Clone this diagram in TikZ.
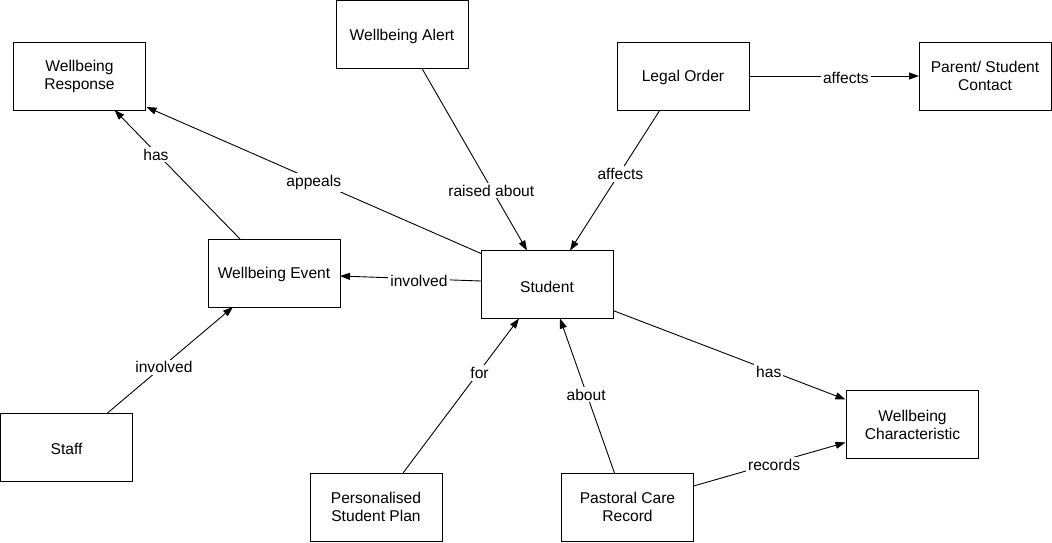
\documentclass[tikz,border=0pt]{standalone}
\usepackage{fontspec}
\setmainfont{Liberation Sans}
\usetikzlibrary{arrows.meta,calc}
\begin{document}
\begin{tikzpicture}[x=1pt,y=-1pt,
  entity/.style={draw=black, line width=1pt, minimum width=132pt, minimum height=68pt,
    inner sep=2pt, outer sep=0pt, align=center, font=\fontsize{15.6}{18}\selectfont,
    execute at begin node={\rule{0pt}{15.2pt}}},
  rel/.style={line width=0.9pt, -{Triangle[length=10pt,width=7pt]}},
  lbl/.style={fill=white, inner sep=2pt, yshift=-2pt, font=\fontsize{15.6}{18}\selectfont}]
\useasboundingbox (0,0) rectangle (1052,542);

\node[entity] (wr) at (79.5,76) {Wellbeing\\Response};
\node[entity] (wa) at (402,34.5) {Wellbeing Alert};
\node[entity] (lo) at (683,76) {Legal Order};
\node[entity] (psc) at (985,76) {Parent/ Student\\Contact};
\node[entity] (we) at (274,273) {Wellbeing Event};
\node[entity] (st) at (547,284.5) {Student};
\node[entity] (staff) at (66.5,447) {Staff};
\node[entity] (psp) at (376,507) {Personalised\\Student Plan};
\node[entity] (pcr) at (627.5,507) {Pastoral Care\\Record};
\node[entity] (wc) at (912.5,424.5) {Wellbeing\\Characteristic};

\draw[rel] ($(st.north west)+(0,3)$) -- node[lbl,pos=0.5] {appeals} ($(wr.south east)+(1,-3)$);
\draw[rel] ($(we.north west)+(32,0)$) -- node[lbl,pos=0.67] {has} ($(wr.south west)+(101,0)$);
\draw[rel] ($(wa.south west)+(86,0)$) -- node[lbl,pos=0.66] {raised about} ($(st.north west)+(46,0)$);
\draw[rel] ($(lo.south west)+(43,0)$) -- node[lbl,pos=0.44] {affects} ($(st.north west)+(89,0)$);
\draw[rel] (lo.east) -- node[lbl,pos=0.57] {affects} (psc.west);
\draw[rel] ($(st.west)+(0,-3.5)$) -- node[lbl,pos=0.44] {involved} ($(we.east)+(0,3)$);
\draw[rel] ($(staff.north west)+(107,0)$) -- node[lbl,pos=0.45] {involved} ($(we.south west)+(25,0)$);
\draw[rel] ($(psp.north west)+(93,0)$) -- node[lbl,pos=0.66] {for} ($(st.south west)+(38,0)$);
\draw[rel] ($(pcr.north west)+(53,0)$) -- node[lbl,pos=0.52] {about} ($(st.south west)+(79,0)$);
\draw[rel] ($(st.south east)+(0,-8)$) -- node[lbl,pos=0.67] {has} ($(wc.north west)+(-1,9)$);
\draw[rel] ($(pcr.north east)+(0,13)$) -- node[lbl,pos=0.53] {records} ($(wc.south west)+(-1,-16)$);
\end{tikzpicture}
\end{document}
